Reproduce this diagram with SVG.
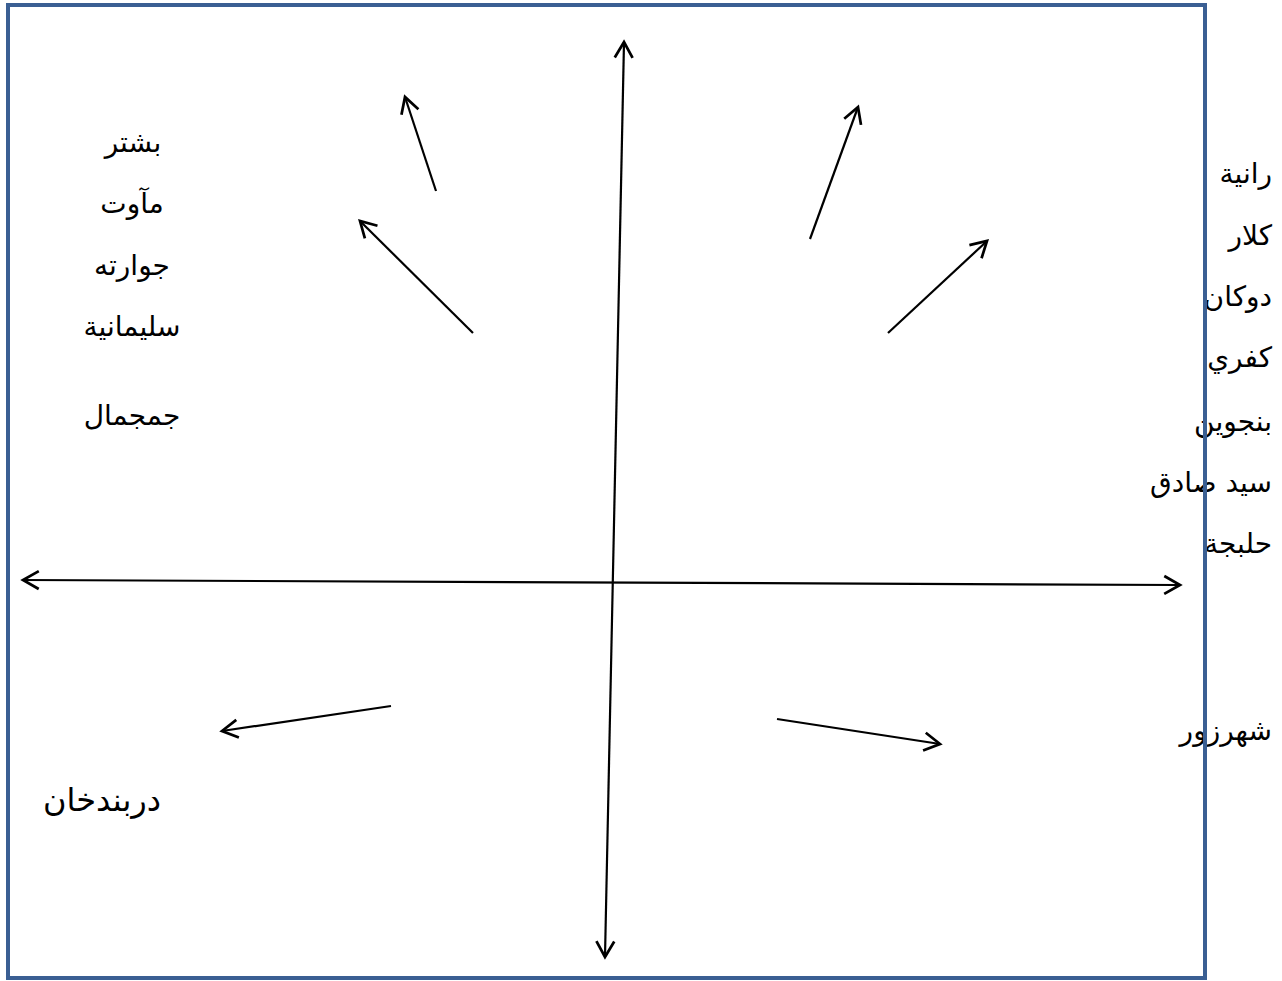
<svg xmlns="http://www.w3.org/2000/svg" width="1282" height="981" viewBox="0 0 1282 981">
<defs>
<style>
.lbl{font-family:"DejaVu Sans","Liberation Sans",sans-serif;font-size:28px;fill:#000}
.c{text-anchor:middle}
.r{text-anchor:end}
.ar{stroke:#000;stroke-width:2.2;fill:none;marker-end:url(#ah)}
.dbl{marker-start:url(#ah)}
</style>
<marker id="ah" viewBox="0 0 20 20" refX="17" refY="10" markerWidth="21" markerHeight="21" markerUnits="userSpaceOnUse" orient="auto-start-reverse">
<path d="M2,1.5 L17,10 L2,18.5" fill="none" stroke="#000" stroke-width="2.6"/>
</marker>
</defs>
<rect width="1282" height="981" fill="#fff"/>
<g id="labels-left">
<text class="lbl c" x="133" y="152">بشتر</text>
<text class="lbl c" x="132" y="213">مآوت</text>
<text class="lbl c" x="132" y="275">جوارته</text>
<text class="lbl c" x="132" y="336">سليمانية</text>
<text class="lbl c" x="132" y="425">جمجمال</text>
<text class="lbl c" x="102" y="811" style="font-size:32px">دربندخان</text>
</g>
<g id="labels-right">
<text class="lbl r" x="1272" y="183">رانية</text>
<text class="lbl r" x="1272" y="245">كلار</text>
<text class="lbl r" x="1272" y="306">دوكان</text>
<text class="lbl r" x="1272" y="367">كفري</text>
<text class="lbl r" x="1272" y="431">بنجوين</text>
<text class="lbl r" x="1272" y="492">سيد صادق</text>
<text class="lbl r" x="1272" y="553">حلبجة</text>
<text class="lbl r" x="1272" y="740">شهرزور</text>
</g>
<g id="frame">
<rect x="8" y="5" width="1197" height="973" fill="none" stroke="#3A5F93" stroke-width="4"/>
</g>
<g id="connectors">
<line class="ar dbl" x1="605" y1="957" x2="624" y2="42"/>
<line class="ar dbl" x1="23" y1="580" x2="1180" y2="585"/>
<line class="ar" x1="436" y1="191" x2="405" y2="97"/>
<line class="ar" x1="473" y1="333" x2="360" y2="221"/>
<line class="ar" x1="810" y1="239" x2="858" y2="107"/>
<line class="ar" x1="888" y1="333" x2="987" y2="241"/>
<line class="ar" x1="391" y1="706" x2="222" y2="731"/>
<line class="ar" x1="777" y1="719" x2="940" y2="744"/>
</g>
</svg>
